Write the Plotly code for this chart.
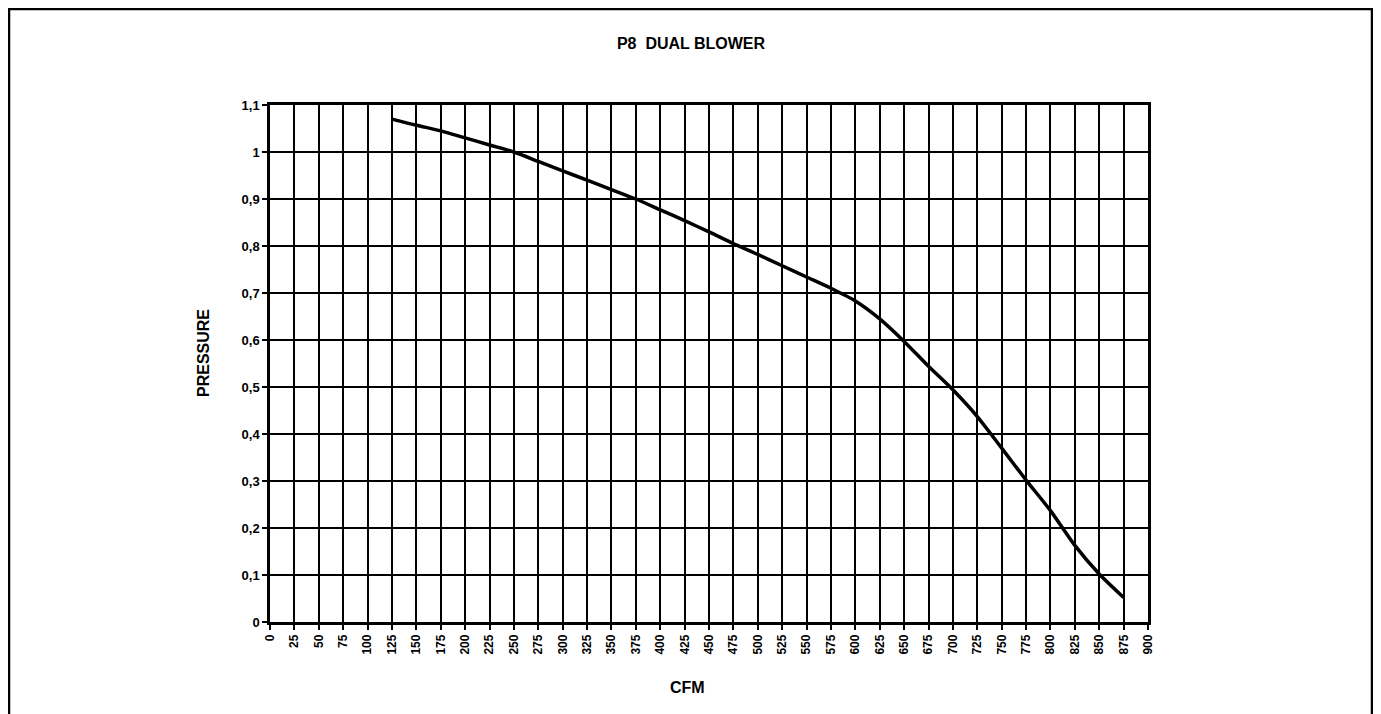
import plotly.graph_objects as go

# Data
cfm = [125, 150, 175, 200, 225, 250, 275, 300, 325, 350, 375, 400, 425, 450, 475,
       500, 525, 550, 575, 600, 625, 650, 675, 700, 725, 750, 775, 800, 825, 850, 875]
pressure = [1.07, 1.057, 1.045, 1.03, 1.015, 1.0, 0.98, 0.96, 0.94, 0.92, 0.90, 0.877,
            0.854, 0.83, 0.805, 0.782, 0.758, 0.734, 0.71, 0.683, 0.645, 0.597, 0.544,
            0.494, 0.437, 0.37, 0.302, 0.237, 0.163, 0.102, 0.052]

x_ticks = list(range(0, 901, 25))
x_ticktext = [str(v) for v in x_ticks]
y_ticks = [0, 0.1, 0.2, 0.3, 0.4, 0.5, 0.6, 0.7, 0.8, 0.9, 1.0, 1.1]
y_ticktext = ["0", "0,1", "0,2", "0,3", "0,4", "0,5", "0,6", "0,7", "0,8", "0,9", "1", "1,1"]

FONT = "Liberation Sans, Arial, sans-serif"

# plot area in figure px (page body adds 8px offset)
L, R, T, B = 262, 241, 97, 100
W, H = 1381, 714
PW, PH = W - L - R, H - T - B

fig = go.Figure()
fig.add_trace(go.Scatter(
    x=cfm, y=pressure, mode="lines",
    line=dict(color="black", width=3.5, shape="spline", smoothing=0.7),
    showlegend=False, hoverinfo="x+y",
))

fig.update_layout(
    width=W, height=H,
    margin=dict(l=L, r=R, t=T, b=B),
    paper_bgcolor="white", plot_bgcolor="white",
    font=dict(family=FONT, color="black"),
    title=dict(text="<b>P8  DUAL BLOWER</b>", x=(683 - L) / PW, xref="paper", xanchor="center",
               y=1 - 35 / H, yanchor="middle", font=dict(size=16, family=FONT, color="black")),
    shapes=[dict(type="rect", xref="paper", yref="paper",
                 x0=(1 - L) / PW, x1=(1364 - L) / PW, y0=-0.3, y1=(PH + T - 1) / PH,
                 line=dict(color="black", width=2.5), fillcolor="rgba(0,0,0,0)",
                 layer="below")],
    annotations=[
        dict(text="<b>CFM</b>", xref="paper", yref="paper",
             x=(679 - L) / PW, y=-(679 - (T + PH)) / PH, xanchor="center", yanchor="middle",
             showarrow=False, font=dict(size=16, family=FONT, color="black")),
        dict(text="<b>PRESSURE</b>", xref="paper", yref="paper", textangle=-90,
             x=(195 - L) / PW, y=(T + PH - 345) / PH, xanchor="center", yanchor="middle",
             showarrow=False, font=dict(size=16, family=FONT, color="black")),
    ],
)

fig.update_xaxes(
    range=[0, 900], tickmode="array", tickvals=x_ticks, ticktext=x_ticktext,
    tickangle=-90, tickfont=dict(size=12, family=FONT, weight="bold"),
    showgrid=True, gridcolor="black", gridwidth=1.6,
    showline=True, linecolor="black", linewidth=2.5, mirror=True,
    ticks="outside", ticklen=5, tickcolor="black", tickwidth=1.5,
    zeroline=False, automargin=False,
)
fig.update_yaxes(
    range=[0, 1.1], tickmode="array", tickvals=y_ticks, ticktext=y_ticktext,
    tickfont=dict(size=13, family=FONT, weight="bold"),
    showgrid=True, gridcolor="black", gridwidth=2.4,
    showline=True, linecolor="black", linewidth=2.5, mirror=True,
    ticks="outside", ticklen=5, tickcolor="black", tickwidth=1.5,
    zeroline=False, automargin=False,
)

fig.write_html("out.html")
